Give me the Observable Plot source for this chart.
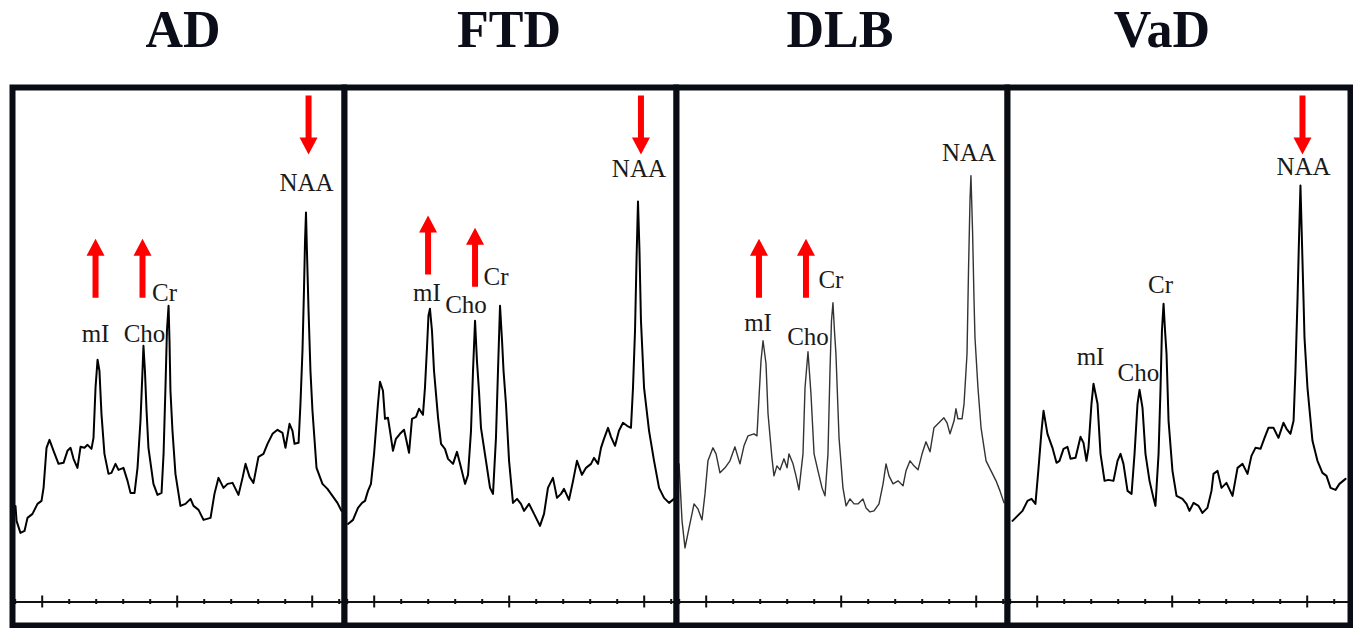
<!DOCTYPE html>
<html>
<head>
<meta charset="utf-8">
<script src="https://cdn.jsdelivr.net/npm/d3@7"></script>
<script src="https://cdn.jsdelivr.net/npm/@observablehq/plot@0.6"></script>
<style>
  body { margin: 0; background: #fff; }
  #wrap { position: relative; width: 1358px; height: 628px; overflow: hidden; background: #fff; }
  .title { position: absolute; top: 4px; width: 240px; text-align: center;
           font: bold 52px "Liberation Serif", "Times New Roman", serif; line-height: 52px; color: #0b0d18; }
  .panel { position: absolute; top: 84px; }
</style>
</head>
<body>
<div id="wrap"></div>
<script>
// ---------------- data ----------------
const groups = ["AD", "FTD", "DLB", "VaD"];
const peakNames = ["mI", "Cho", "Cr", "NAA"];

// chemical shift axis ticks (ppm), no labels
const majorTicks = [4, 3, 2];
const minorTicks = [4.2, 3.8, 3.6, 3.4, 3.2, 2.8, 2.6, 2.4, 2.2, 1.8];

// spectra: chemical shift (ppm) and signal intensity (a.u.)
const adPpm = [4.198,4.190,4.161,4.131,4.109,4.072,4.035,4.005,3.990,3.968,3.946,3.916,3.879,3.842,3.813,3.790,3.768,3.739,3.716,3.687,3.664,3.635,3.620,3.605,3.590,3.576,3.561,3.539,3.509,3.487,3.457,3.435,3.398,3.368,3.346,3.316,3.294,3.272,3.257,3.250,3.239,3.227,3.213,3.176,3.146,3.116,3.101,3.087,3.076,3.064,3.057,3.050,3.035,3.013,2.976,2.939,2.901,2.879,2.842,2.805,2.753,2.724,2.694,2.657,2.627,2.590,2.546,2.516,2.494,2.464,2.435,2.398,2.361,2.331,2.294,2.257,2.220,2.198,2.168,2.146,2.131,2.101,2.087,2.072,2.061,2.053,2.046,2.039,2.027,2.013,1.998,1.968,1.924,1.887,1.850,1.813,1.783];
const adInt = [96,81,69,71,84,88,98,101,114,154,162,151,138,139,151,154,143,134,155,154,157,153,164,214,242,231,188,148,128,129,138,132,134,121,109,109,134,181,231,256,231,191,154,118,107,109,148,214,271,296,261,211,171,128,96,98,103,96,92,82,84,108,124,114,118,119,107,124,138,125,119,145,148,158,168,172,169,154,178,171,158,159,198,251,311,361,389,351,291,231,191,134,118,113,106,99,91];

const ftdPpm = [4.194,4.157,4.120,4.090,4.068,4.046,4.024,4.001,3.972,3.957,3.935,3.920,3.898,3.883,3.861,3.839,3.809,3.779,3.764,3.742,3.720,3.690,3.668,3.639,3.624,3.609,3.598,3.587,3.572,3.557,3.527,3.505,3.476,3.453,3.416,3.387,3.364,3.327,3.305,3.283,3.268,3.253,3.239,3.224,3.209,3.172,3.142,3.120,3.098,3.083,3.068,3.053,3.042,3.024,3.001,2.972,2.942,2.913,2.890,2.853,2.816,2.772,2.742,2.713,2.676,2.646,2.616,2.594,2.557,2.527,2.498,2.461,2.431,2.394,2.372,2.342,2.320,2.298,2.268,2.246,2.216,2.187,2.157,2.127,2.098,2.083,2.068,2.057,2.046,2.035,2.024,2.001,1.964,1.927,1.890,1.853,1.816,1.779];
const ftdInt = [78,82,94,99,101,111,118,148,198,220,211,183,184,171,151,163,168,172,163,149,183,185,193,187,214,254,286,293,271,231,184,158,153,143,138,150,138,118,127,171,231,281,241,211,174,141,114,108,164,231,296,261,231,198,141,99,103,98,91,98,88,76,88,114,124,104,108,113,102,121,141,127,134,138,144,138,154,163,174,165,156,171,179,176,174,214,271,341,400,351,281,214,171,141,114,104,99,103];

const dlbPpm = [4.201,4.179,4.157,4.127,4.090,4.061,4.031,4.009,3.987,3.950,3.927,3.898,3.861,3.824,3.787,3.750,3.720,3.690,3.646,3.624,3.609,3.594,3.579,3.557,3.542,3.513,3.498,3.476,3.453,3.424,3.401,3.387,3.357,3.335,3.313,3.283,3.268,3.246,3.224,3.201,3.172,3.142,3.120,3.098,3.083,3.072,3.061,3.050,3.039,3.016,2.987,2.964,2.935,2.905,2.876,2.839,2.816,2.787,2.757,2.720,2.690,2.668,2.646,2.616,2.579,2.542,2.520,2.490,2.461,2.431,2.401,2.372,2.342,2.313,2.276,2.239,2.216,2.194,2.164,2.150,2.135,2.105,2.090,2.068,2.057,2.046,2.039,2.027,2.016,2.009,1.987,1.964,1.927,1.890,1.853,1.824,1.794];
const dlbInt = [138,81,54,74,98,93,82,108,141,154,148,129,134,141,155,138,156,166,168,166,204,241,261,238,188,144,126,136,132,143,134,148,138,126,112,148,214,250,208,148,131,114,106,148,231,281,299,271,248,164,114,96,103,98,98,103,94,90,91,98,118,138,126,118,121,116,131,141,136,132,148,160,150,174,179,184,179,168,181,193,183,183,198,248,331,401,426,371,301,264,214,174,141,131,121,111,99];

const vadPpm = [4.183,4.146,4.109,4.072,4.042,4.013,3.990,3.968,3.953,3.924,3.887,3.857,3.835,3.805,3.776,3.753,3.716,3.679,3.657,3.635,3.620,3.598,3.583,3.553,3.531,3.501,3.472,3.435,3.405,3.383,3.361,3.331,3.301,3.279,3.257,3.242,3.220,3.198,3.168,3.139,3.124,3.101,3.087,3.076,3.064,3.053,3.042,3.027,2.998,2.968,2.924,2.894,2.872,2.842,2.805,2.776,2.739,2.709,2.694,2.664,2.635,2.598,2.553,2.516,2.479,2.442,2.413,2.383,2.346,2.316,2.287,2.250,2.213,2.176,2.153,2.124,2.101,2.087,2.072,2.061,2.050,2.039,2.027,2.020,1.998,1.961,1.924,1.887,1.857,1.827,1.790,1.761,1.716];
const vadInt = [81,86,91,101,103,98,134,171,191,168,154,139,141,153,155,143,144,165,159,141,154,198,218,198,148,121,122,121,141,148,138,111,108,148,198,212,194,148,121,104,96,148,211,271,298,271,248,181,131,106,103,98,91,99,96,89,94,111,128,131,114,119,106,134,138,128,146,154,153,164,174,174,164,179,173,168,181,231,301,361,416,361,301,264,214,161,141,129,126,114,112,118,123];

// peak label anchors (ppm, a.u.), order = peakNames
const adLabelPpm = [3.605, 3.242, 3.094, 2.042];
const adLabelInt = [260, 260, 301, 411];
const ftdLabelPpm = [3.609, 3.320, 3.098, 2.039];
const ftdLabelInt = [301, 289, 317, 425];
const dlbLabelPpm = [3.616, 3.246, 3.076, 2.053];
const dlbLabelInt = [271, 257, 314, 441];
const vadLabelPpm = [3.605, 3.250, 3.087, 2.027];
const vadLabelInt = [237, 221, 309, 427];

// change arrows: tip position (ppm, a.u.) and direction
const adArrowPpm = [3.605, 3.257, 2.027];
const adArrowTip = [363, 363, 447];
const adArrowDir = ["up", "up", "down"];
const ftdArrowPpm = [3.601, 3.253, 2.024];
const ftdArrowTip = [386, 374, 447];
const ftdArrowDir = ["up", "up", "down"];
const dlbArrowPpm = [3.609, 3.261];
const dlbArrowTip = [363, 363];
const dlbArrowDir = ["up", "up"];
const vadArrowPpm = [2.035];
const vadArrowTip = [447];
const vadArrowDir = ["down"];

// ---------------- drawing ----------------
const arrowUp = { draw(c) {
  c.moveTo(0, 0); c.lineTo(9, 17); c.lineTo(3, 17); c.lineTo(3, 59);
  c.lineTo(-3, 59); c.lineTo(-3, 17); c.lineTo(-9, 17); c.closePath();
}};
const arrowDown = { draw(c) {
  c.moveTo(0, 0); c.lineTo(9, -17); c.lineTo(3, -17); c.lineTo(3, -59);
  c.lineTo(-3, -59); c.lineTo(-3, -17); c.lineTo(-9, -17); c.closePath();
}};

const panels = [
  {ppm: adPpm, int: adInt, lp: adLabelPpm, li: adLabelInt, ap: adArrowPpm, at: adArrowTip, ad: adArrowDir},
  {ppm: ftdPpm, int: ftdInt, lp: ftdLabelPpm, li: ftdLabelInt, ap: ftdArrowPpm, at: ftdArrowTip, ad: ftdArrowDir},
  {ppm: dlbPpm, int: dlbInt, lp: dlbLabelPpm, li: dlbLabelInt, ap: dlbArrowPpm, at: dlbArrowTip, ad: dlbArrowDir},
  {ppm: vadPpm, int: vadInt, lp: vadLabelPpm, li: vadLabelInt, ap: vadArrowPpm, at: vadArrowTip, ad: vadArrowDir}
];

// layout (pixels) and styles
const frameLeft = [12, 344, 676, 1007];
const frameRight = [344, 676, 1007, 1350];
const titleCenter = [183, 509, 840, 1162];
const lineStroke = ["#000", "#000", "#333", "#000"];
const lineWidth = [2, 2, 1.4, 2];
const pxPerPpm = 135;
const ppmLeft = 4.22;

const wrap = document.getElementById("wrap");

groups.forEach((g, i) => {
  const t = document.createElement("div");
  t.className = "title";
  t.textContent = g;
  t.style.left = (titleCenter[i] - 120) + "px";
  wrap.appendChild(t);
});

panels.forEach((p, i) => {
  const W = frameRight[i] - frameLeft[i];
  const spectrum = p.ppm.map((v, k) => ({ppm: v, a: p.int[k]}));
  const labels = peakNames.map((n, k) => ({name: n, ppm: p.lp[k], a: p.li[k]}));
  const arrows = p.ap.map((v, k) => ({ppm: v, a: p.at[k], dir: p.ad[k]}));
  const chart = Plot.plot({
    width: W + 6,
    height: 544,
    marginTop: 3, marginBottom: 3, marginLeft: 3, marginRight: 3,
    x: {domain: [ppmLeft, ppmLeft - W / pxPerPpm], axis: null},
    y: {domain: [-23.5, 514], axis: null},
    marks: [
      Plot.ruleY([0], {stroke: "#111", strokeWidth: 2}),
      Plot.ruleX(minorTicks, {x: d => d, y1: -2.5, y2: 2.5, stroke: "#111", strokeWidth: 2}),
      Plot.ruleX(majorTicks, {x: d => d, y1: -6, y2: 6, stroke: "#111", strokeWidth: 2}),
      Plot.line(spectrum, {x: "ppm", y: "a", stroke: lineStroke[i], strokeWidth: lineWidth[i], strokeLinejoin: "round"}),
      Plot.text(labels, {x: "ppm", y: "a", text: "name", fontFamily: "Liberation Serif", fontSize: 25,
                         fill: "#1a1a1a", textAnchor: "middle", lineAnchor: "bottom"}),
      Plot.dot(arrows.filter(d => d.dir === "up"), {x: "ppm", y: "a", symbol: arrowUp, fill: "#ff0000", stroke: "none"}),
      Plot.dot(arrows.filter(d => d.dir === "down"), {x: "ppm", y: "a", symbol: arrowDown, fill: "#ff0000", stroke: "none"}),
      Plot.frame({stroke: "#0a0c14", strokeWidth: 6})
    ]
  });
  const holder = document.createElement("div");
  holder.className = "panel";
  holder.style.left = (frameLeft[i] - 3) + "px";
  holder.style.width = (W + 6) + "px";
  holder.appendChild(chart);
  wrap.appendChild(holder);
});
</script>
</body>
</html>
